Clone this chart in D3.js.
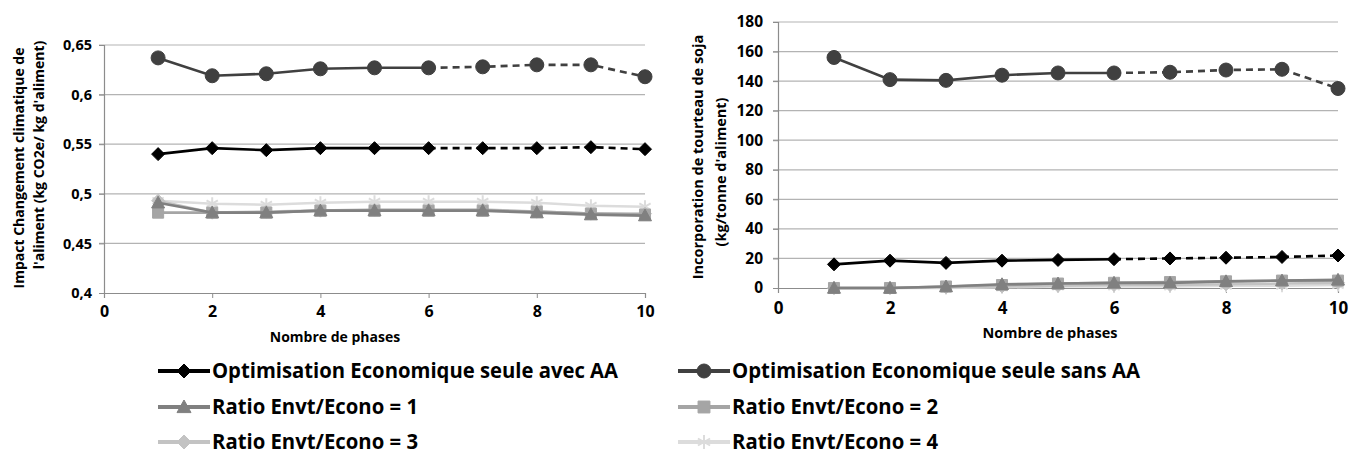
<!DOCTYPE html>
<html><head><meta charset="utf-8">
<script src="https://cdn.jsdelivr.net/npm/d3@7"></script>
<style>
body{margin:0;background:#fff;}
svg{display:block;}
.tick text{font-family:"Open Sans",sans-serif;font-weight:bold;}
</style></head><body>
<svg id="c" width="1354" height="457"></svg>
<script>
const phases = [1,2,3,4,5,6,7,8,9,10];
const seriesNames = ["Optimisation Economique seule avec AA","Optimisation Economique seule sans AA","Ratio Envt/Econo = 1","Ratio Envt/Econo = 2","Ratio Envt/Econo = 3","Ratio Envt/Econo = 4"];
// Left chart: climate impact (kg CO2e / kg feed)
const leftAvecAA = [0.540,0.546,0.544,0.546,0.546,0.546,0.546,0.546,0.547,0.545];
const leftSansAA = [0.637,0.619,0.621,0.626,0.627,0.627,0.628,0.630,0.630,0.618];
const leftRatio1 = [0.491,0.481,0.481,0.483,0.483,0.483,0.483,0.481,0.479,0.478];
const leftRatio2 = [0.481,0.481,0.481,0.483,0.483,0.483,0.483,0.482,0.480,0.479];
const leftRatio3 = [0.493,0.481,0.482,0.483,0.484,0.484,0.484,0.482,0.480,0.480];
const leftRatio4 = [0.493,0.490,0.489,0.491,0.492,0.492,0.492,0.491,0.488,0.487];
// Right chart: soybean meal incorporation (kg / t feed)
const rightAvecAA = [16,18.5,17,18.5,19,19.5,20,20.5,21,22];
const rightSansAA = [156,141,140.5,144,145.5,145.5,146,147.5,148,135];
const rightRatio1 = [0,0,1,2.5,3,3.5,3.5,4.5,5,5.5];
const rightRatio2 = [0,0,1,2,3,3.5,4,4.5,5,5];
const rightRatio3 = [0,0,0.5,1,1.5,2,2,2.5,3,3.5];
const rightRatio4 = [0,0,0,0.5,1,1,1,1.5,1.5,2];
const xTicks = [0,2,4,6,8,10];
const leftYTicks = [0.4,0.45,0.5,0.55,0.6,0.65];
const rightYTicks = [0,20,40,60,80,100,120,140,160,180];
const leftYTitle = ["Impact Changement climatique de","l'aliment (kg CO2e/ kg d'aliment)"];
const rightYTitle = ["Incorporation de tourteau de soja","(kg/tonne d'aliment)"];
const xTitle = "Nombre de phases";

const styles = [
  {color:"#000000", marker:"diamond", dashedFrom:6},
  {color:"#404040", marker:"circle", dashedFrom:6},
  {color:"#808080", marker:"triangle"},
  {color:"#a5a5a5", marker:"square"},
  {color:"#c3c3c3", marker:"diamond"},
  {color:"#dcdcdc", marker:"asterisk"}
];

const svg = d3.select("#c");
const fmtComma = d => String(d).replace(".", ",");

function markerPath(type, s){
  if(type==="diamond") return `M0,${-s}L${s},0L0,${s}L${-s},0Z`;
  if(type==="circle") return d3.symbol(d3.symbolCircle, Math.PI*s*s)();
  if(type==="square") return `M${-s*0.85},${-s*0.85}H${s*0.85}V${s*0.85}H${-s*0.85}Z`;
  if(type==="triangle") return `M0,${-s}L${s},${s*0.8}L${-s},${s*0.8}Z`;
  if(type==="asterisk") return `M0,${-s}V${s}M${-s*0.87},${-s*0.5}L${s*0.87},${s*0.5}M${-s*0.87},${s*0.5}L${s*0.87},${-s*0.5}`;
}

function drawChart(cfg){
  const x = d3.scaleLinear().domain([0,10]).range(cfg.xr);
  const y = d3.scaleLinear().domain(cfg.yd).range(cfg.yr);
  const g = svg.append("g");
  g.append("g").selectAll("line").data(cfg.yTicks.slice(1)).join("line")
    .attr("x1", cfg.xr[0]-5).attr("x2", cfg.xr[1]).attr("y1", d=>y(d)).attr("y2", d=>y(d))
    .attr("stroke","#b3b3b3").attr("stroke-width",1.2);
  const ya = g.append("g").attr("transform",`translate(${cfg.xr[0]},0)`)
    .call(d3.axisLeft(y).tickValues(cfg.yTicks).tickFormat(cfg.fmt).tickSize(5).tickPadding(cfg.yPad));
  ya.select(".domain").attr("stroke","#8c8c8c").attr("stroke-width",1.2);
  ya.selectAll(".tick line").attr("stroke","#8c8c8c");
  ya.selectAll(".tick text").attr("font-size",cfg.tickFs).attr("fill","#000");
  const xa = g.append("g").attr("transform",`translate(0,${cfg.yr[0]})`)
    .call(d3.axisBottom(x).tickValues(xTicks).tickSize(5).tickPadding(cfg.xPad));
  xa.select(".domain").attr("stroke","#8c8c8c").attr("stroke-width",1.2);
  xa.selectAll(".tick line").attr("stroke","#8c8c8c");
  xa.selectAll(".tick text").attr("font-size",cfg.xTickFs).attr("fill","#000");
  cfg.yTitle.forEach((t,i)=>{
    g.append("text").attr("transform",`translate(${cfg.yTitleX[i]},${cfg.yTitleY[i]}) rotate(-90)`)
      .attr("text-anchor","middle").attr("font-family","Open Sans, sans-serif").attr("font-weight","bold")
      .attr("font-size",cfg.titleFs).attr("dy","0.35em").text(t);
  });
  g.append("text").attr("x",cfg.xTitlePos[0]).attr("y",cfg.xTitlePos[1]).attr("text-anchor","middle")
    .attr("font-family","Open Sans, sans-serif").attr("font-weight","bold").attr("font-size",cfg.xTitleFs)
    .attr("dy","0.35em").text(xTitle);
  const line = d3.line().x(d=>x(d[0])).y(d=>y(d[1]));
  for(let k=cfg.series.length-1;k>=0;k--){
    const vals = cfg.series[k], st = styles[k];
    const pts = phases.map((p,i)=>[p,vals[i]]);
    if(st.dashedFrom){
      const cut = phases.indexOf(st.dashedFrom);
      g.append("path").attr("d",line(pts.slice(0,cut+1))).attr("fill","none").attr("stroke",st.color).attr("stroke-width",2.6);
      g.append("path").attr("d",line(pts.slice(cut))).attr("fill","none").attr("stroke",st.color).attr("stroke-width",2.6).attr("stroke-dasharray","7,5");
    } else {
      g.append("path").attr("d",line(pts)).attr("fill","none").attr("stroke",st.color).attr("stroke-width",2.6);
    }
    g.append("g").selectAll("path").data(pts).join("path")
      .attr("transform",d=>`translate(${x(d[0])},${y(d[1])})`)
      .attr("d",markerPath(st.marker, st.marker==="circle"?7:6.5))
      .attr("fill",st.marker==="asterisk"?"none":st.color)
      .attr("stroke",st.color).attr("stroke-width",st.marker==="asterisk"?2:1);
  }
}

drawChart({xr:[104,645], yd:[0.4,0.65], yr:[293,45], yTicks:leftYTicks, fmt:fmtComma, tickFs:14.5, xTickFs:16, xPad:8, yPad:7,
  yTitle:leftYTitle, yTitleX:[19,39], yTitleY:[168,155], titleFs:14, xTitleFs:14, xTitlePos:[335,337],
  series:[leftAvecAA,leftSansAA,leftRatio1,leftRatio2,leftRatio3,leftRatio4]});
drawChart({xr:[778,1338], yd:[0,180], yr:[288,22], yTicks:rightYTicks, fmt:d=>d, tickFs:15.5, xTickFs:17, xPad:9, yPad:10,
  yTitle:rightYTitle, yTitleX:[698,721], yTitleY:[157,172], titleFs:14.5, xTitleFs:14.5, xTitlePos:[1050,333],
  series:[rightAvecAA,rightSansAA,rightRatio1,rightRatio2,rightRatio3,rightRatio4]});

// legend
const legendPos = [[158,371],[678,371],[158,407],[678,407],[158,442],[678,442]];
const legendLen = [406,408,206,206,206,206];
const lg = svg.append("g");
seriesNames.forEach((name,k)=>{
  const [lx,ly] = legendPos[k], st = styles[k];
  lg.append("line").attr("x1",lx).attr("x2",lx+52).attr("y1",ly).attr("y2",ly).attr("stroke",st.color).attr("stroke-width",4);
  lg.append("path").attr("transform",`translate(${lx+26},${ly})`).attr("d",markerPath(st.marker,7))
    .attr("fill",st.marker==="asterisk"?"none":st.color).attr("stroke",st.color).attr("stroke-width",st.marker==="asterisk"?2:1);
  lg.append("text").attr("x",lx+54).attr("y",ly).attr("dy","0.35em")
    .attr("font-family","Open Sans, sans-serif").attr("font-weight","bold")
    .attr("font-size",21).attr("textLength",legendLen[k]).attr("lengthAdjust","spacingAndGlyphs").text(name);
});
</script>
</body></html>
